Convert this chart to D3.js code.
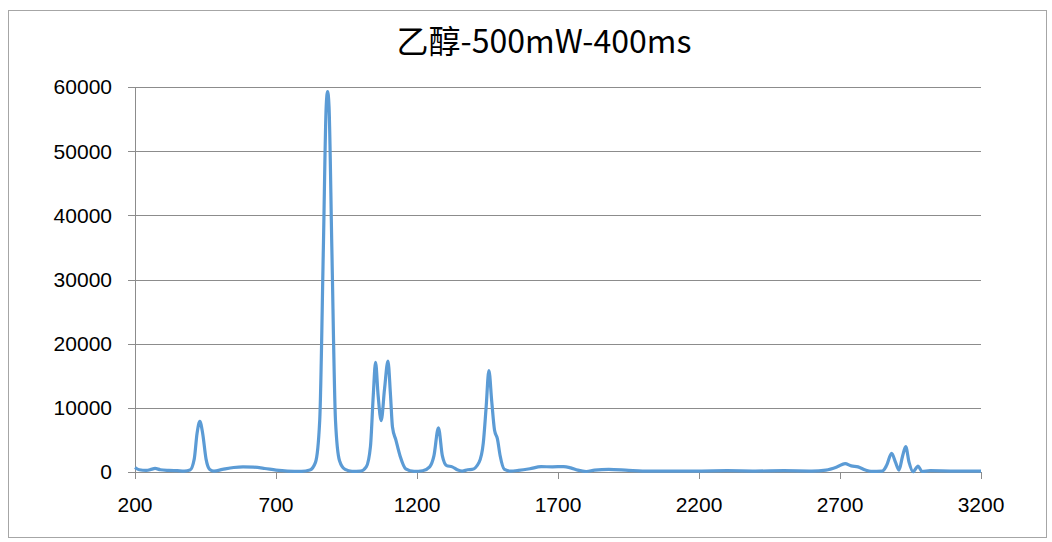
<!DOCTYPE html>
<html><head><meta charset="utf-8">
<script src="https://cdn.jsdelivr.net/npm/d3@7/dist/d3.min.js"></script>
<style>body{margin:0;background:#fff;}svg{display:block;}</style>
</head><body>
<svg id="c" width="1052" height="542"></svg>
<script>
const title = "乙醇-500mW-400ms";
const xTicks = [200, 700, 1200, 1700, 2200, 2700, 3200];
const yTicks = [0, 10000, 20000, 30000, 40000, 50000, 60000];
const wavenumber = [200,215,240,260,271,290,320,350,375,395,410,420,430,440,452,465,480,510,550,583,620,660,700,740,790,820,840,855,868,878,883,888,898,911,925,945,970,1000,1020,1035,1045,1053,1062,1073,1085,1097,1106,1113,1125,1140,1160,1190,1220,1245,1260,1276,1290,1305,1325,1345,1360,1380,1395,1420,1435,1445,1455,1465,1475,1485,1495,1510,1530,1560,1600,1640,1680,1720,1745,1770,1800,1830,1880,1950,2000,2100,2200,2300,2400,2500,2600,2650,2690,2718,2740,2764,2790,2810,2850,2865,2883,2897,2909,2922,2933,2945,2959,2977,2990,3020,3100,3200];
const intensity = [700,350,250,450,550,350,250,200,150,300,2000,6000,7900,6000,2000,400,150,400,700,800,750,550,300,150,100,300,1500,8000,35000,57000,59300,57000,35000,8000,1800,400,100,150,800,4000,12000,17100,12000,8000,13000,17300,12000,7000,5000,2500,500,100,200,800,2500,6900,2500,1000,800,300,150,350,400,1500,4500,10000,15800,11000,6500,5200,2500,400,150,250,500,830,800,850,650,300,80,300,420,250,150,150,150,200,150,200,150,300,800,1300,950,800,300,100,150,1000,2900,1500,300,2500,3950,1500,50,930,100,200,150,150];

const svg = d3.select("#c");
svg.append("rect").attr("x",8.5).attr("y",10.5).attr("width",1038).attr("height",527)
  .attr("fill","#fff").attr("stroke","#a6a6a6").attr("stroke-width",1);

const L=135, R=981, T=87, B=472;
const x = d3.scaleLinear().domain([200,3200]).range([L,R]);
const y = d3.scaleLinear().domain([0,60000]).range([B,T]);

const grid = svg.append("g");
yTicks.forEach(t=>{
  grid.append("line").attr("x1",L-7).attr("x2",R).attr("y1",Math.round(y(t))+0.5).attr("y2",Math.round(y(t))+0.5)
    .attr("stroke","#8c8c8c").attr("stroke-width",1);
  svg.append("text").attr("x",112).attr("y",y(t)).attr("dy","0.35em").attr("text-anchor","end")
    .attr("font-family","Liberation Sans, Arial, sans-serif").attr("font-size",21).attr("fill","#000").text(t);
});
svg.append("line").attr("x1",L+0.5).attr("x2",L+0.5).attr("y1",T).attr("y2",B).attr("stroke","#8c8c8c");
xTicks.forEach(t=>{
  svg.append("line").attr("x1",Math.round(x(t))+0.5).attr("x2",Math.round(x(t))+0.5).attr("y1",B).attr("y2",B+7)
    .attr("stroke","#8c8c8c");
  svg.append("text").attr("x",x(t)).attr("y",505).attr("dy","0.35em").attr("text-anchor","middle")
    .attr("font-family","Liberation Sans, Arial, sans-serif").attr("font-size",21).attr("fill","#000").text(t);
});

const data = wavenumber.map((w,i)=>[w,intensity[i]]);
const line = d3.line().x(d=>x(d[0])).y(d=>y(d[1])).curve(d3.curveMonotoneX);
svg.append("path").datum(data).attr("d",line).attr("fill","none")
  .attr("stroke","#5b9bd5").attr("stroke-width",3.2).attr("stroke-linejoin","round");

svg.append("text").attr("x",544).attr("y",42).attr("dy","0.35em").attr("text-anchor","middle")
  .attr("font-family","Noto Sans CJK SC, sans-serif").attr("font-size",32).attr("fill","#000").text(title);
</script>
</body></html>
